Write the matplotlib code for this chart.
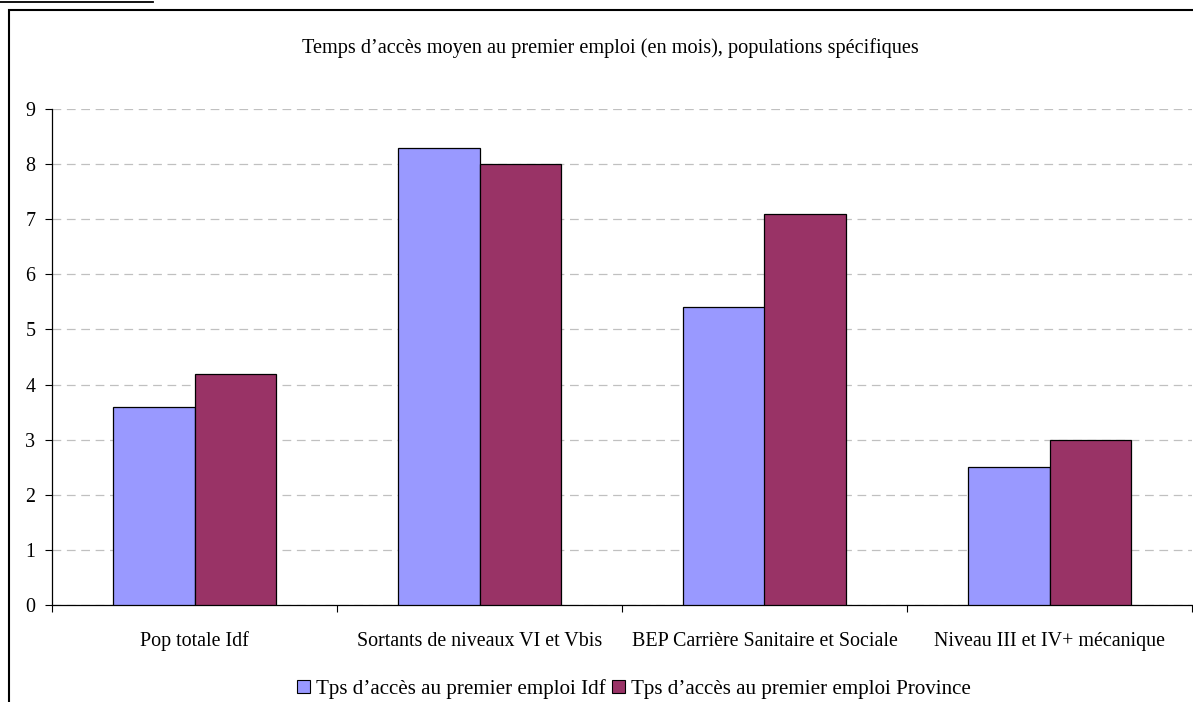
import matplotlib
matplotlib.use("Agg")
import matplotlib.pyplot as plt
import numpy as np
from matplotlib.patches import Rectangle, Patch
from matplotlib.lines import Line2D

plt.rcParams["font.family"] = ["Liberation Serif", "DejaVu Serif"]

categories = [
    "Pop totale Idf",
    "Sortants de niveaux VI et Vbis",
    "BEP Carrière Sanitaire et Sociale",
    "Niveau III et IV+ mécanique",
]
idf_values = [3.6, 8.3, 5.4, 2.5]
province_values = [4.2, 8.0, 7.1, 3.0]
series_names = [
    "Tps d\u2019accès au premier emploi Idf",
    "Tps d\u2019accès au premier emploi Province",
]
title_text = "Temps d\u2019accès moyen au premier emploi (en mois), populations spécifiques"
yticks = list(range(0, 10))

idf_color = "#9999FF"
province_color = "#993366"
FS = 14.4

W, H = 1193, 702
fig = plt.figure(figsize=(W / 100, H / 100), dpi=100)

# outer chart frame (runs off the right and bottom edges)
fig.add_artist(Rectangle((9 / W, -0.05), 1.1, 1 - 10 / H + 0.05,
                         transform=fig.transFigure, fill=False,
                         edgecolor="black", linewidth=1.5))
# underline of the heading above the frame
fig.add_artist(Line2D([0, 153 / W], [1 - 1.5 / H, 1 - 1.5 / H],
                      transform=fig.transFigure, color="black", linewidth=1.3))

ax = fig.add_axes([52 / W, 1 - 605 / H, (1192 - 52) / W, (605 - 109) / H])

x = np.arange(len(categories))
bw = 0.286
ax.bar(x - bw / 2, idf_values, bw, color=idf_color, edgecolor="black",
       linewidth=0.9, zorder=3, label=series_names[0])
ax.bar(x + bw / 2, province_values, bw, color=province_color, edgecolor="black",
       linewidth=0.9, zorder=3, label=series_names[1])

ax.set_xlim(-0.5, len(categories) - 0.5)
ax.set_ylim(0, 9)
ax.set_yticks(yticks)
ax.set_yticklabels([str(t) for t in yticks], fontsize=FS)
ax.yaxis.grid(True, linestyle=(0, (7, 4.5)), color="#c0c0c0", linewidth=0.9, zorder=0)

ax.set_xticks(np.arange(len(categories) + 1) - 0.5)
ax.set_xticklabels([])
ax.tick_params(axis="x", direction="out", length=5, width=0.8, color="black")
ax.tick_params(axis="y", direction="out", length=5, width=0.8, color="black", pad=7)
for i, c in enumerate(categories):
    ax.text(i, -36 / 55.1, c, ha="center", va="center", fontsize=FS)

for side in ["top", "right"]:
    ax.spines[side].set_visible(False)
ax.spines["left"].set_linewidth(0.9)
ax.spines["bottom"].set_linewidth(0.9)

fig.text(610 / W, 1 - 48 / H, title_text, ha="center", va="center", fontsize=14.6)

handles = [Patch(facecolor=idf_color, edgecolor="black", linewidth=0.8),
           Patch(facecolor=province_color, edgecolor="black", linewidth=0.8)]
fig.legend(handles, series_names, loc="center", bbox_to_anchor=(634 / W, 1 - 689 / H),
           ncol=2, frameon=False, fontsize=15.1, handlelength=0.6, handleheight=0.6,
           handletextpad=0.3, columnspacing=0.3, borderaxespad=0, borderpad=0)

fig.savefig("out.png", dpi=100, facecolor="white")
